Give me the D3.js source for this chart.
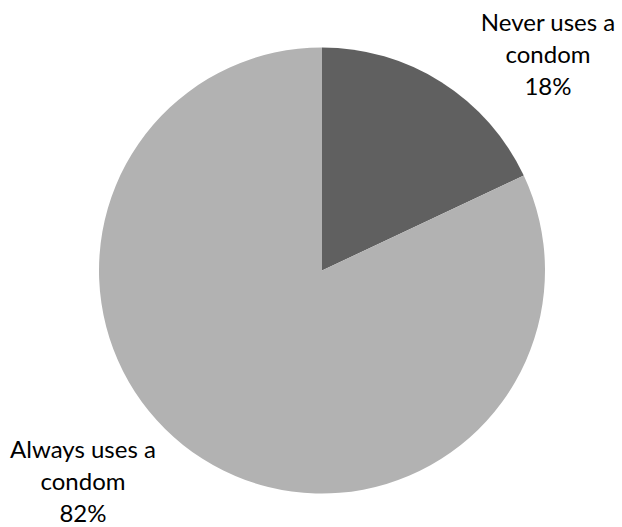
<!DOCTYPE html>
<html><head><meta charset="utf-8">
<script src="https://cdn.jsdelivr.net/npm/d3@7"></script>
<style>body{margin:0;background:#fff}svg{display:block}</style>
</head><body>
<script>
const categories = ["Never uses a condom", "Always uses a condom"];
const values = [18, 82];
const labelLines = [["Never uses a", "condom", "18%"], ["Always uses a", "condom", "82%"]];
const colors = ["#606060", "#b2b2b2"];

const W = 622, H = 527;
const cx = 322, cy = 270.5, r = 223;
const svg = d3.select("body").append("svg").attr("width", W).attr("height", H);
const pie = d3.pie().sort(null).value(d => d)(values);
const arc = d3.arc().innerRadius(0).outerRadius(r);
const g = svg.append("g").attr("transform", `translate(${cx},${cy})`);
g.selectAll("path").data(pie).join("path").attr("d", arc).attr("fill", (d, i) => colors[i]);

const labelPos = [[548, 31], [83, 458]];
labelLines.forEach((lines, i) => {
  const t = svg.append("text").attr("text-anchor", "middle")
    .attr("font-family", "Lato, sans-serif").attr("font-size", 24).attr("fill", "#000");
  lines.forEach((l, j) => t.append("tspan").attr("x", labelPos[i][0]).attr("y", labelPos[i][1] + j * 32.2).text(l));
});
</script>
</body></html>
